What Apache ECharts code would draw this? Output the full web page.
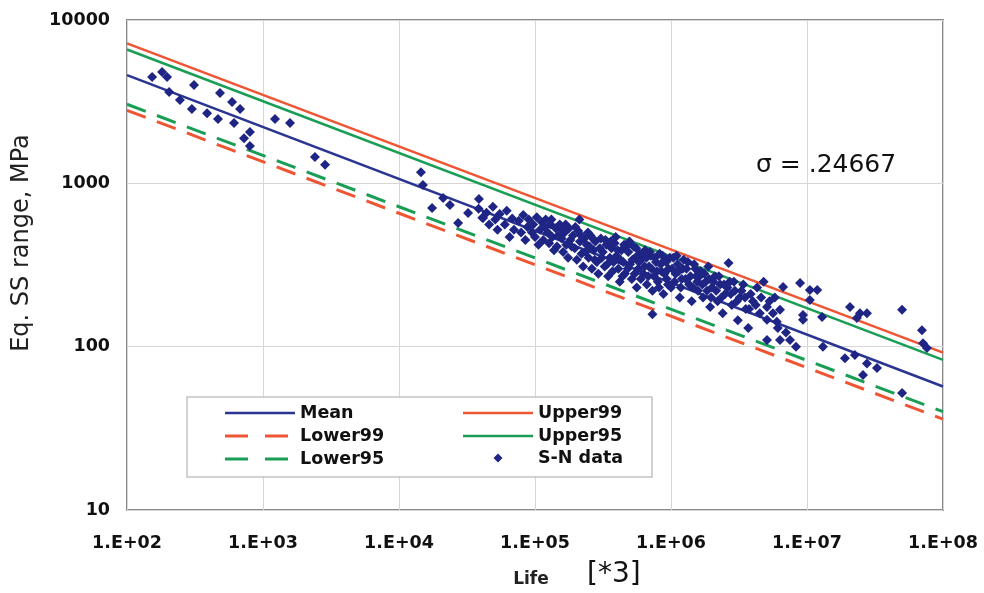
<!DOCTYPE html>
<html>
<head>
<meta charset="utf-8">
<script src="https://cdn.jsdelivr.net/npm/echarts@6/dist/echarts.min.js"></script>
<style>html,body{margin:0;padding:0;background:#fff;}#c{width:984px;height:593px;}</style>
</head>
<body>
<div id="c"></div>
<script>
// Fitted lines: [life, stress] at the ends of the axis
var meanLine    = [[1e2, 4600], [1e8, 57]];
var upper99Line = [[1e2, 7200], [1e8, 92]];
var upper95Line = [[1e2, 6600], [1e8, 83]];
var lower99Line = [[1e2, 2800], [1e8, 36]];
var lower95Line = [[1e2, 3050], [1e8, 40]];

var xTicks = ['1.E+02','1.E+03','1.E+04','1.E+05','1.E+06','1.E+07','1.E+08'];
var yTicks = ['10','100','1000','10000'];

// S-N data points [life, stress range MPa]
var snData = [
  [153,4480],[181,4800],[197,4480],[204,3620],[245,3240],[311,4000],[300,2850],[388,2690],
  [467,2480],[483,3570],[592,3150],[678,2850],[612,2340],[802,2060],[725,1890],[802,1690],
  [1225,2480],[1580,2340],[2410,1450],[2860,1300],
  [14500,1170],[15000,977],[17500,706],[21100,813],[23700,737],[27200,571],[32200,658],[38700,801],[41500,613],
  [38500,700],[41000,615],[44000,660],[46000,560],
  [49000,720],[51000,600],[53000,520],[55000,650],
  [60000,560],[62000,680],[65000,470],[68000,610],[70000,520],
  [76000,590],[79000,500],[82000,640],[85000,450],[88000,540],[90000,600],
  [97000,560],[100000,470],[103000,620],[106000,420],[109000,520],[112000,580],[115000,450],
  [120000,600],[124000,500],[127000,430],[130000,560],[134000,470],[138000,390],[142000,530],[145000,410],
  [152000,560],[157000,460],[161000,380],[165000,500],[170000,420],[175000,350],[178000,530],[182000,450],
  [190000,480],[196000,400],[203000,340],[208000,510],[214000,440],[220000,370],[226000,310],[230000,460],[212000,600],
  [240000,420],[248000,350],[256000,480],[262000,300],[270000,390],[278000,440],[285000,330],[292000,280],
  [305000,460],[315000,380],[325000,310],[335000,420],[345000,270],[355000,350],[365000,400],[372000,290],
  [385000,430],[398000,360],[410000,300],[420000,250],[432000,390],[445000,330],[458000,280],[470000,410],
  [485000,380],[500000,320],[515000,260],[530000,410],[545000,350],[560000,230],[575000,300],[590000,370],
  [605000,340],[625000,280],[645000,390],[665000,240],[690000,310],[710000,360],[730000,220],[750000,270],[730000,158],
  [775000,330],[800000,250],[825000,370],[850000,290],[880000,210],[905000,340],[930000,260],[960000,300],
  [1.0e6,230],[1.04e6,350],[1.08e6,280],[1.12e6,320],[1.16e6,200],[1.2e6,260],[1.24e6,340],
  [1.3e6,300],[1.36e6,240],[1.42e6,190],[1.48e6,320],[1.53e6,270],[1.58e6,220],
  [1.65e6,290],[1.72e6,200],[1.8e6,250],[1.88e6,310],[1.94e6,175],[2.0e6,230],
  [2.1e6,270],[2.2e6,190],[2.3e6,240],[2.4e6,160],[2.5e6,210],[2.65e6,325],
  [2.7e6,250],[2.8e6,180],[2.95e6,220],[3.1e6,145],[3.2e6,200],
  [3.4e6,240],[3.55e6,170],[3.7e6,130],[3.85e6,210],[4.0e6,190],
  [4.3e6,230],[4.6e6,200],[4.8e6,250],
  [5.08e6,175],[5.62e6,160],[6.33e6,168],[5.08e6,146],[6.0e6,142],[5.08e6,110],[6.33e6,110],[7.5e6,110],[8.3e6,100],[7.0e6,122],
  [6.67e6,232],[8.89e6,245],[1.05e7,222],[1.19e7,222],[1.05e7,193],[9.35e6,156],[9.35e6,146],[1.29e7,152],
  [2.07e7,175],[2.45e7,160],[2.76e7,160],[2.33e7,150],[5.0e7,168],[7.0e7,126],[7.13e7,105],[7.62e7,98],
  [1.31e7,100],[1.90e7,85],[2.25e7,89],[2.76e7,79],[3.27e7,74],[2.58e7,67],[5.0e7,52],
  [95000,500],[118000,540],[132000,600],[148000,480],[158000,520],[168000,560],[186000,410],[198000,540],
  [218000,480],[235000,380],[245000,500],[252000,410],[266000,460],[275000,340],[300000,400],[310000,350],
  [330000,450],[340000,320],[360000,440],[378000,330],[392000,470],[405000,390],[425000,340],[440000,270],
  [452000,420],[480000,300],[495000,440],[520000,340],[540000,280],[555000,400],[580000,330],[600000,260],
  [615000,370],[640000,310],[660000,350],[680000,270],[700000,380],[720000,300],[760000,350],[790000,290],
  [815000,230],[840000,320],[870000,360],[895000,280],[920000,330],[950000,240],[980000,350],
  [1.02e6,300],[1.06e6,250],[1.1e6,360],[1.14e6,290],[1.18e6,230],[1.22e6,300],[1.28e6,260],[1.33e6,330],
  [1.39e6,270],[1.45e6,230],[1.51e6,300],[1.56e6,250],[1.62e6,270],[1.7e6,240],[1.76e6,280],[1.84e6,220],
  [1.9e6,260],[1.97e6,200],[2.05e6,250],[2.15e6,220],[2.25e6,270],[2.35e6,200],[2.45e6,240],[2.6e6,230],
  [2.75e6,210],[2.9e6,250],[3.05e6,190],[3.3e6,220],[3.5e6,200],[3.75e6,170],[4.2e6,180],[4.5e6,160],
  [5.3e6,190],[5.8e6,200],[6.1e6,130]
];

var FONT = 'DejaVu Sans';
var red = '#ee5533', green = '#1a9e55', blue = '#2a3592', dot = '#1f2585';

// legend icons (pure shapes, sized to the 70px legend slot)
var iconSolid  = 'path://M0,0L70,0L70,2.6L0,2.6Z';
var iconDashed = 'path://M0,0L23,0L23,3L0,3Z M40,0L63,0L63,3L40,3Z M70,1.5L69.99,1.49L69.99,1.51Z';
var iconDiamond = 'path://M0,4.5L0.01,4.49L0.01,4.51Z M70,4.5L69.99,4.49L69.99,4.51Z M35,0L39.5,4.5L35,9L30.5,4.5Z';

var chart = echarts.init(document.getElementById('c'), null, {renderer: 'canvas'});
function lineSeries(name, data, color, dashed) {
  return {
    name: name, type: 'line', data: data, symbol: 'none', z: 3,
    lineStyle: {color: color, width: dashed ? 3 : 2.5, type: dashed ? [20, 12] : 'solid'},
    itemStyle: {color: color}, silent: true, animation: false
  };
}
var legendText = {fontFamily: FONT, fontWeight: 'bold', fontSize: 17.5, color: '#111'};
chart.setOption({
  animation: false,
  backgroundColor: '#fff',
  grid: {left: 127, right: 41, top: 20, bottom: 83, show: true, borderColor: '#8a8a8a', borderWidth: 2, backgroundColor: 'transparent'},
  xAxis: {
    type: 'log', logBase: 10, min: 1e2, max: 1e8, splitNumber: 6,
    axisLine: {show: false}, axisTick: {show: false},
    splitLine: {show: true, lineStyle: {color: '#d6d6d6', width: 1}},
    axisLabel: {
      margin: 24, color: '#111', fontFamily: FONT, fontWeight: 'bold', fontSize: 17.5,
      formatter: function (v) { var e = Math.round(Math.log10(v)); return xTicks[e - 2]; }
    }
  },
  yAxis: {
    type: 'log', logBase: 10, min: 10, max: 10000, splitNumber: 3,
    axisLine: {show: false}, axisTick: {show: false},
    splitLine: {show: true, lineStyle: {color: '#d6d6d6', width: 1}},
    axisLabel: {
      margin: 17, color: '#111', fontFamily: FONT, fontWeight: 'bold', fontSize: 17.5,
      formatter: function (v) { var e = Math.round(Math.log10(v)); return yTicks[e - 1]; }
    }
  },
  legend: [
    {left: 225, top: 404, orient: 'vertical', itemWidth: 70, itemHeight: 14, itemGap: 5, padding: 0, z: 6,
     data: [{name: 'Mean', icon: iconSolid}, {name: 'Lower99', icon: iconDashed}, {name: 'Lower95', icon: iconDashed}],
     textStyle: legendText, selectedMode: false},
    {left: 463, top: 404, orient: 'vertical', itemWidth: 70, itemHeight: 14, itemGap: 5, padding: 0, z: 6,
     data: [{name: 'Upper99', icon: iconSolid}, {name: 'Upper95', icon: iconSolid}],
     textStyle: legendText, selectedMode: false},
    {left: 463, top: 449, orient: 'vertical', itemWidth: 70, itemHeight: 9, itemGap: 5, padding: 0, z: 6,
     data: [{name: 'S-N data', icon: iconDiamond}], textStyle: legendText, selectedMode: false}
  ],
  graphic: [
    {type: 'rect', z: 4, shape: {x: 187, y: 397, width: 465, height: 80},
     style: {fill: '#fff', stroke: '#c4c4c4', lineWidth: 1.5}},
    {type: 'text', z: 5, x: 756, y: 165,
     style: {text: 'σ = .24667', fontFamily: FONT, fontSize: 25, fill: '#111', align: 'left', verticalAlign: 'middle'}},
    {type: 'text', z: 5, x: 22, y: 243, rotation: Math.PI / 2,
     style: {text: 'Eq. SS range, MPa', fontFamily: FONT, fontSize: 24, fill: '#222', align: 'center', verticalAlign: 'middle'}},
    {type: 'text', z: 5, x: 531, y: 580,
     style: {text: 'Life', fontFamily: FONT, fontWeight: 'bold', fontSize: 17, fill: '#222', align: 'center', verticalAlign: 'middle'}},
    {type: 'text', z: 5, x: 587, y: 575,
     style: {text: '[*3]', fontFamily: FONT, fontSize: 28, fill: '#111', align: 'left', verticalAlign: 'middle'}}
  ],
  series: [
    lineSeries('Mean', meanLine, blue, false),
    lineSeries('Lower99', lower99Line, red, true),
    lineSeries('Lower95', lower95Line, green, true),
    lineSeries('Upper99', upper99Line, red, false),
    lineSeries('Upper95', upper95Line, green, false),
    {name: 'S-N data', type: 'scatter', data: snData, symbol: 'diamond', symbolSize: 10, z: 4,
     itemStyle: {color: dot, opacity: 1}, silent: true}
  ]
});
</script>
</body>
</html>
